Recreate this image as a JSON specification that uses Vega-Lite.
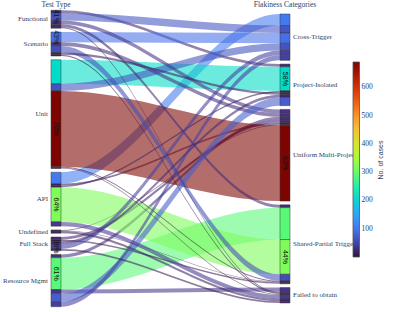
{
  "$schema": "https://vega.github.io/schema/vega-lite/v6.json",
  "width": 397,
  "height": 312,
  "autosize": {"type": "none"},
  "padding": 0,
  "background": "white",
  "config": {"view": {"stroke": null}},
  "data": {
    "values": [
      {"source": "Functional", "target": "Project-Isolated", "value": 25},
      {"source": "API", "target": "Cross-Trigger", "value": 105},
      {"source": "Functional", "target": "Cross-Trigger", "value": 67},
      {"source": "Scenario", "target": "Cross-Trigger", "value": 94},
      {"source": "Unit", "target": "Project-Isolated", "value": 218},
      {"source": "Unit", "target": "Cross-Trigger", "value": 64},
      {"source": "Functional", "target": "Uniform Multi-Project", "value": 35},
      {"source": "Scenario", "target": "Uniform Multi-Project", "value": 32},
      {"source": "Resource Mgmt", "target": "Uniform Multi-Project", "value": 30},
      {"source": "Full Stack", "target": "Uniform Multi-Project", "value": 25},
      {"source": "API", "target": "Uniform Multi-Project", "value": 15},
      {"source": "Undefined", "target": "Uniform Multi-Project", "value": 6},
      {"source": "Unit", "target": "Uniform Multi-Project", "value": 688},
      {"source": "Functional", "target": "Shared-Partial Trigger", "value": 26},
      {"source": "Resource Mgmt", "target": "Shared-Partial Trigger", "value": 289},
      {"source": "API", "target": "Project-Isolated", "value": 15},
      {"source": "API", "target": "Shared-Partial Trigger", "value": 315},
      {"source": "Scenario", "target": "Shared-Partial Trigger", "value": 60},
      {"source": "Unit", "target": "Shared-Partial Trigger", "value": 8},
      {"source": "Undefined", "target": "Shared-Partial Trigger", "value": 4},
      {"source": "Full Stack", "target": "Shared-Partial Trigger", "value": 14},
      {"source": "Scenario", "target": "Project-Isolated", "value": 20},
      {"source": "Full Stack", "target": "Project-Isolated", "value": 25},
      {"source": "Full Stack", "target": "Cross-Trigger", "value": 45},
      {"source": "Resource Mgmt", "target": "Failed to obtain", "value": 36},
      {"source": "Resource Mgmt", "target": "Project-Isolated", "value": 74},
      {"source": "Resource Mgmt", "target": "Cross-Trigger", "value": 45},
      {"source": "Functional", "target": "Failed to obtain", "value": 10},
      {"source": "Scenario", "target": "Failed to obtain", "value": 12},
      {"source": "Unit", "target": "Failed to obtain", "value": 8},
      {"source": "API", "target": "Failed to obtain", "value": 39},
      {"source": "Undefined", "target": "Failed to obtain", "value": 20},
      {"source": "Full Stack", "target": "Failed to obtain", "value": 15}
    ]
  },
  "transform": [
    {"window": [{"op": "row_number", "as": "i"}]},
    {"calculate": "indexof(['Functional','Scenario','Unit','API','Undefined','Full Stack','Resource Mgmt'], datum.source)", "as": "si"},
    {"calculate": "indexof(['Cross-Trigger','Project-Isolated','Uniform Multi-Project','Shared-Partial Trigger','Failed to obtain'], datum.target)", "as": "ti"},
    {"joinaggregate": [{"op": "sum", "field": "value", "as": "total"}]},
    {"window": [{"op": "sum", "field": "value", "as": "scum"}], "sort": [{"field": "si"}, {"field": "i"}], "frame": [null, 0]},
    {"window": [{"op": "sum", "field": "value", "as": "tcum"}], "sort": [{"field": "ti"}, {"field": "i"}], "frame": [null, 0]},
    {"calculate": "datum.scum - (datum.total + 6 * 34) / 2 + datum.si * 34", "as": "sy1"},
    {"calculate": "datum.sy1 - datum.value", "as": "sy0"},
    {"calculate": "datum.tcum - (datum.total + 4 * 34) / 2 + datum.ti * 34", "as": "ty1"},
    {"calculate": "datum.ty1 - datum.value", "as": "ty0"}
  ],
  "layer": [
    {
      "transform": [
        {"calculate": "0.04367", "as": "k0"},
        {"calculate": "0.047", "as": "k1"},
        {"calculate": "0.997", "as": "k2"},
        {"calculate": "1", "as": "k3"},
        {"fold": ["k0", "k1", "k2", "k3"], "as": ["kn", "px"]},
        {"calculate": "datum.px < 0.5 ? datum.sy0 : datum.ty0", "as": "ya"},
        {"calculate": "datum.px < 0.5 ? datum.sy1 : datum.ty1", "as": "yb"}
      ],
      "mark": {"type": "area", "interpolate": "monotone", "fillOpacity": 0.58},
      "encoding": {
        "x": {"field": "px", "type": "quantitative", "scale": {"domain": [-0.2227, 1.5109], "nice": false, "zero": false}, "axis": null},
        "y": {"field": "ya", "type": "quantitative", "scale": {"domain": [-1437, 1392], "reverse": true, "nice": false, "zero": false}, "axis": null},
        "y2": {"field": "yb"},
        "detail": {"field": "i", "type": "nominal"},
        "color": {
          "field": "value",
          "type": "quantitative",
          "scale": {
            "domain": [0, 49.29, 98.57, 147.86, 197.14, 246.43, 295.71, 345, 394.29, 443.57, 492.86, 542.14, 591.43, 640.71, 690],
            "range": ["#30123b", "#4145ab", "#4675ed", "#39a2fc", "#1bcfd4", "#24eca6", "#61fc6c", "#a4fc3b", "#d1e834", "#f3c63a", "#fe9b2d", "#f36315", "#d93806", "#b11901", "#7a0402"]
          },
          "legend": {
            "orient": "none",
            "legendX": 353,
            "legendY": 62,
            "padding": 0,
            "direction": "vertical",
            "gradientLength": 195,
            "gradientThickness": 6.5,
            "gradientStrokeColor": "#555555",
            "gradientStrokeWidth": 0.8,
            "values": [100, 200, 300, 400, 500, 600],
            "labelFont": "Liberation Serif",
            "labelFontSize": 7.5,
            "labelColor": "#2a3f5f",
            "labelOffset": 2,
            "title": "No. of cases",
            "titleOrient": "right",
            "titleFont": "Liberation Sans",
            "titleFontSize": 7,
            "titleFontWeight": "normal",
            "titleColor": "#2a3f5f",
            "titlePadding": 11,
            "encode": {"title": {"update": {"angle": {"value": -90}}}}
          }
        }
      }
    },
    {
      "mark": {"type": "rect", "stroke": "#3a3a3a", "strokeWidth": 0.5},
      "encoding": {
        "x": {"datum": 0, "type": "quantitative"},
        "x2": {"datum": 0.04367},
        "y": {"field": "sy0", "type": "quantitative"},
        "y2": {"field": "sy1"},
        "color": {"field": "value", "type": "quantitative"}
      }
    },
    {
      "mark": {"type": "rect", "stroke": "#3a3a3a", "strokeWidth": 0.5},
      "encoding": {
        "x": {"datum": 1, "type": "quantitative"},
        "x2": {"datum": 1.04367},
        "y": {"field": "ty0", "type": "quantitative"},
        "y2": {"field": "ty1"},
        "color": {"field": "value", "type": "quantitative"}
      }
    },
    {
      "transform": [
        {"aggregate": [{"op": "min", "field": "sy0", "as": "top"}, {"op": "max", "field": "sy1", "as": "bot"}], "groupby": ["source"]},
        {"calculate": "(datum.top + datum.bot) / 2", "as": "mid"}
      ],
      "mark": {"type": "text", "align": "right", "baseline": "middle", "dx": -3, "font": "Liberation Serif", "fontSize": 7, "color": "#2a3f5f"},
      "encoding": {
        "x": {"datum": 0, "type": "quantitative"},
        "y": {"field": "mid", "type": "quantitative"},
        "text": {"field": "source"}
      }
    },
    {
      "transform": [
        {"aggregate": [{"op": "min", "field": "ty0", "as": "top"}, {"op": "max", "field": "ty1", "as": "bot"}], "groupby": ["target"]},
        {"calculate": "(datum.top + datum.bot) / 2", "as": "mid"}
      ],
      "mark": {"type": "text", "align": "left", "baseline": "middle", "dx": 3, "font": "Liberation Serif", "fontSize": 7, "color": "#2a3f5f"},
      "encoding": {
        "x": {"datum": 1.04367, "type": "quantitative"},
        "y": {"field": "mid", "type": "quantitative"},
        "text": {"field": "target"}
      }
    },
    {
      "transform": [
        {"joinaggregate": [{"op": "max", "field": "value", "as": "mx"}, {"op": "sum", "field": "value", "as": "st"}], "groupby": ["source"]},
        {"filter": "datum.value == datum.mx && datum.value / datum.st >= 0.3 && datum.st >= 100"},
        {"calculate": "datum.value / datum.st", "as": "pct"},
        {"calculate": "(datum.sy0 + datum.sy1) / 2", "as": "mid"}
      ],
      "mark": {"type": "text", "angle": 90, "align": "center", "baseline": "middle", "font": "Liberation Sans", "fontSize": 7, "color": "#111111"},
      "encoding": {
        "x": {"datum": 0.02183, "type": "quantitative"},
        "y": {"field": "mid", "type": "quantitative"},
        "text": {"field": "pct", "type": "quantitative", "format": ".0%"}
      }
    },
    {
      "transform": [
        {"joinaggregate": [{"op": "max", "field": "value", "as": "mx"}, {"op": "sum", "field": "value", "as": "st"}], "groupby": ["target"]},
        {"filter": "datum.value == datum.mx && datum.value / datum.st >= 0.3 && datum.st >= 100"},
        {"calculate": "datum.value / datum.st", "as": "pct"},
        {"calculate": "(datum.ty0 + datum.ty1) / 2", "as": "mid"}
      ],
      "mark": {"type": "text", "angle": 90, "align": "center", "baseline": "middle", "font": "Liberation Sans", "fontSize": 7, "color": "#111111"},
      "encoding": {
        "x": {"datum": 1.02183, "type": "quantitative"},
        "y": {"field": "mid", "type": "quantitative"},
        "text": {"field": "pct", "type": "quantitative", "format": ".0%"}
      }
    },
    {
      "transform": [
        {"aggregate": [{"op": "min", "field": "sy0", "as": "top"}]}
      ],
      "mark": {"type": "text", "align": "center", "baseline": "bottom", "dy": -1.5, "font": "Liberation Serif", "fontSize": 7.5, "color": "#2a3f5f"},
      "encoding": {
        "x": {"datum": 0.02183, "type": "quantitative"},
        "y": {"field": "top", "type": "quantitative"},
        "text": {"value": "Test Type"}
      }
    },
    {
      "transform": [
        {"aggregate": [{"op": "min", "field": "ty0", "as": "top"}]}
      ],
      "mark": {"type": "text", "align": "center", "baseline": "bottom", "dy": -1.5, "font": "Liberation Serif", "fontSize": 7.5, "color": "#2a3f5f"},
      "encoding": {
        "x": {"datum": 1.02183, "type": "quantitative"},
        "y": {"field": "top", "type": "quantitative"},
        "text": {"value": "Flakiness Categories"}
      }
    }
  ]
}
